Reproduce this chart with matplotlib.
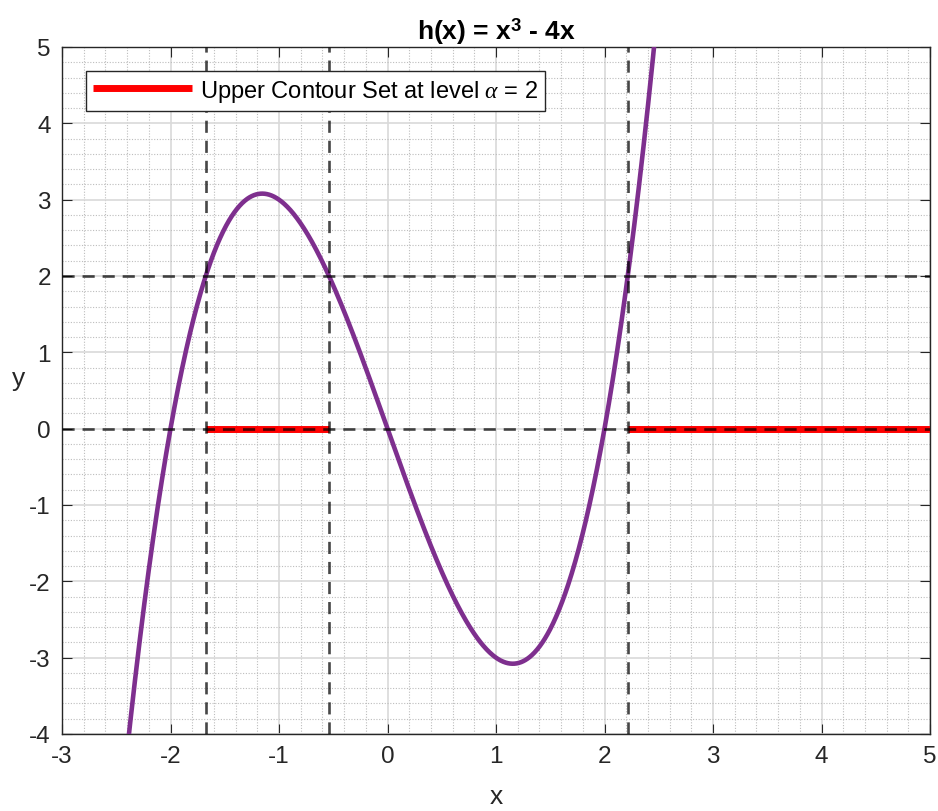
import numpy as np
import matplotlib.pyplot as plt
from matplotlib.ticker import MultipleLocator

plt.rcParams['font.family'] = ['Liberation Sans', 'DejaVu Sans']
plt.rcParams['mathtext.fontset'] = 'custom'
plt.rcParams['mathtext.rm'] = 'Liberation Sans'
plt.rcParams['mathtext.bf'] = 'Liberation Sans:bold'
plt.rcParams['mathtext.it'] = 'Liberation Serif:italic'
plt.rcParams['axes.unicode_minus'] = False

# h(x) = x^3 - 4x, as stated in the title
coeffs = [1, 0, -4, 0]
alpha = 2
x_range = (-3, 5)
y_range = (-4, 5)
# crossings of h(x) = alpha
crossings = [-1.675, -0.539, 2.214]
upper_sets = [(-1.675, -0.539), (2.214, 5)]

x = np.linspace(-3, 5, 2000)
y = np.polyval(coeffs, x)

fig = plt.figure(figsize=(9.38, 8.12), dpi=100)
ax = fig.add_axes([62 / 938, 1 - 735 / 812, 868 / 938, 687 / 812])

ax.plot(x, y, color='#7E2F8E', lw=3.3, zorder=3)

for i, (a, b) in enumerate(upper_sets):
    ax.plot([a, b], [0, 0], color='red', lw=5, solid_capstyle='butt', zorder=4,
            label=r'Upper Contour Set at level $\alpha$ = 2' if i == 0 else None)

dash_kw = dict(color='black', alpha=0.72, lw=1.9, ls=(0, (4.6, 3.0)), zorder=5)
ax.axhline(alpha, **dash_kw)
ax.axhline(0, **dash_kw)
for c in crossings:
    ax.axvline(c, **dash_kw)

ax.set_xlim(*x_range)
ax.set_ylim(*y_range)
ax.xaxis.set_major_locator(MultipleLocator(1))
ax.yaxis.set_major_locator(MultipleLocator(1))
ax.xaxis.set_minor_locator(MultipleLocator(0.2))
ax.yaxis.set_minor_locator(MultipleLocator(0.2))
ax.grid(which='major', color='#d9d9d9', lw=1.2)
ax.grid(which='minor', color='#bdbdbd', lw=0.8, ls=(0, (1, 1.5)))
ax.set_axisbelow(True)
ax.tick_params(which='both', direction='in', top=True, right=True,
               labelsize=17.5, colors='#262626')
ax.tick_params(which='major', length=7, pad=8)
ax.tick_params(which='minor', length=0)
for s in ax.spines.values():
    s.set_color('#262626')
    s.set_linewidth(1)

ax.set_xlabel('x', fontsize=19, color='#262626', labelpad=12)
ax.set_ylabel('y', fontsize=19, color='#262626', rotation=0, labelpad=8)
ax.set_title(r'h(x) = x$^\mathbf{3}$ - 4x', fontsize=19, fontweight='bold', pad=6)

leg = ax.legend(loc='upper left', fontsize=17, frameon=True, fancybox=False,
                edgecolor='#262626', framealpha=1, handlelength=4.2,
                handletextpad=0.35, borderaxespad=1.0, borderpad=0.3)
leg.get_frame().set_linewidth(1)

fig.savefig('out.png', dpi=100)
